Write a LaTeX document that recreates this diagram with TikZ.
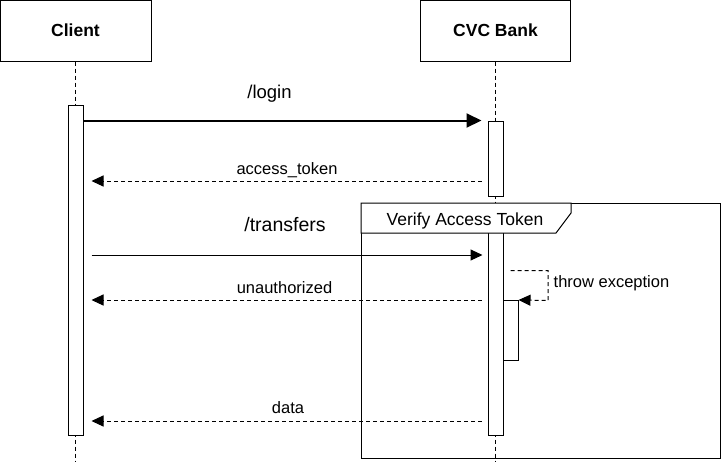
\documentclass[tikz,border=0pt]{standalone}
\usepackage{fontspec}
\setmainfont{Liberation Sans}
\usetikzlibrary{arrows.meta}

\begin{document}
\begin{tikzpicture}[x=1pt,y=-1pt,
  actor/.style={draw, line width=1pt, minimum height=61pt, inner sep=0pt, font=\fontsize{17.5}{20}\selectfont\bfseries},
  bar/.style={draw, fill=white, line width=1pt, minimum width=15pt, inner sep=0pt},
  life/.style={line width=1pt, dash pattern=on 4pt off 3pt},
  call/.style={line width=1pt, -{Triangle[length=12pt,width=11pt]}},
  reply/.style={call, dash pattern=on 4pt off 3pt},
  lbl/.style={anchor=base, inner sep=0pt, font=\fontsize{16.5}{19}\selectfont}]
    \useasboundingbox (0,0) rectangle (722,467);

    % Actors
    \node[actor, minimum width=151pt] (client) at (75.5,30.5) {Client};
    \node[actor, minimum width=150pt] (bank) at (495.5,30.5) {CVC Bank};

    % Lifelines
    \draw[life] (client.south) -- (75.5,461);
    \draw[life] (bank.south) -- (495.5,462);

    % Activations
    \node[bar, minimum height=330pt] (cbar) at (75.5,270.5) {};
    \node[bar, minimum height=75pt] (bbar1) at (495.5,158.5) {};
    \node[bar, minimum height=207pt] (bbar2) at (495.5,331.5) {};
    \node[bar, minimum height=60pt] (bbar3) at (510.5,330.5) {};

    % Frame
    \draw[line width=1pt] (361,203) rectangle (720,458);
    \draw[line width=1pt, fill=white] (361,203) -- (571,203) -- (571,213) -- (556,233) -- (361,233) -- cycle;
    \node[lbl, font=\fontsize{17.5}{20}\selectfont] (frame) at (465,225) {Verify Access Token};

    % Messages
    \draw[call, line width=2pt, -{Triangle[length=15pt,width=14pt]}, shorten >=6pt] (cbar.east |- bbar1.north) -- (bbar1.north west);
    \node[lbl, font=\fontsize{18.5}{21}\selectfont] (login) at (269.5,98) {/login};

    \draw[reply, shorten <=6pt, shorten >=8pt] (bbar1.west |- 0,181) -- (cbar.east |- 0,181);
    \node[lbl] (token) at (287,174) {access\_token};

    \draw[call, shorten <=8pt, shorten >=5pt] (cbar.east |- 0,255) -- (bbar2.west |- 0,255);
    \node[lbl, font=\fontsize{19.5}{22}\selectfont] (transfers) at (285,231.5) {/transfers};

    \draw[reply, shorten <=7pt] (bbar2.east |- 0,270.5) -| (548,300.5) -- (bbar3.north east);
    \node[lbl, anchor=base west] (throw) at (553.5,287) {throw exception};

    \draw[reply, shorten <=6pt, shorten >=8pt] (bbar2.west |- bbar3.north) -- (cbar.east |- bbar3.north);
    \node[lbl] (unauth) at (284.5,293) {unauthorized};

    \draw[reply, shorten <=6pt, shorten >=8pt] (bbar2.west |- 0,421) -- (cbar.east |- 0,421);
    \node[lbl] (data) at (288,413) {data};
\end{tikzpicture}
\end{document}
